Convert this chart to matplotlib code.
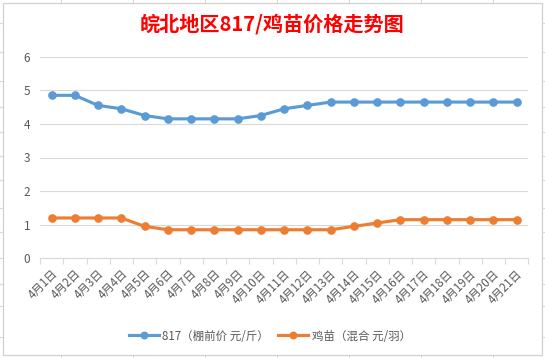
"""Recreate the 817 / chick price trend chart (Excel style)."""

import matplotlib.pyplot as plt
from matplotlib.lines import Line2D
from matplotlib.patches import Rectangle
from matplotlib.transforms import ScaledTranslation

plt.rcParams["font.family"] = ["Noto Sans CJK SC", "DejaVu Sans"]

TITLE = "皖北地区817/鸡苗价格走势图"
DAYS = [f"4月{d}日" for d in range(1, 22)]
PRICE_817 = [4.85, 4.85, 4.55, 4.45, 4.25, 4.15, 4.15, 4.15, 4.15, 4.25, 4.45,
             4.55, 4.65, 4.65, 4.65, 4.65, 4.65, 4.65, 4.65, 4.65, 4.65]
PRICE_CHICK = [1.2, 1.2, 1.2, 1.2, 0.95, 0.85, 0.85, 0.85, 0.85, 0.85, 0.85,
               0.85, 0.85, 0.95, 1.05, 1.15, 1.15, 1.15, 1.15, 1.15, 1.15]
LABEL_817 = "817（棚前价 元/斤）"
LABEL_CHICK = "鸡苗（混合 元/羽）"

BLUE = "#5B9BD5"
ORANGE = "#ED7D31"
TEXT = "#595959"
GRID = "#D9D9D9"

W, H = 545, 358
# spreadsheet cell lines behind the chart object (pixel positions)
SHEET_COLS = [61, 133, 205, 277, 349, 421, 493]
SHEET_ROWS = [23.3, 52.3, 81.3, 107.3, 132.3, 156.3, 180.3, 208.3, 232.3,
              258.3, 284.3, 306.3, 336.7]


def fx(px):
    return px / W


def fy(py):
    return 1 - py / H


fig = plt.figure(figsize=(W / 100, H / 100), dpi=100)

for x in SHEET_COLS:
    fig.add_artist(Line2D([fx(x), fx(x)], [0, 1], color=GRID, lw=0.8, zorder=0))
for y in SHEET_ROWS:
    fig.add_artist(Line2D([0, 1], [fy(y), fy(y)], color=GRID, lw=0.8, zorder=0))
fig.add_artist(Rectangle((fx(3), fy(355)), fx(539), 352 / H, transform=fig.transFigure,
                         facecolor="white", edgecolor="#D0D0D0", lw=0.9, zorder=1))

ax = fig.add_axes([fx(40), fy(258.3), fx(488.3), (258.3 - 56.7) / H], zorder=2)
ax.patch.set_alpha(0)
x = list(range(len(DAYS)))
ax.plot(x, PRICE_817, color=BLUE, lw=2.25, marker="o", ms=5.2, label=LABEL_817, zorder=3)
ax.plot(x, PRICE_CHICK, color=ORANGE, lw=2.25, marker="o", ms=5.2, label=LABEL_CHICK, zorder=3)

ax.set_xlim(-0.5, len(DAYS) - 0.5)
ax.set_ylim(0, 6)
ax.set_yticks(range(7))
ax.grid(axis="y", color=GRID, lw=0.8)
ax.set_axisbelow(True)
for side in ["left", "right", "top"]:
    ax.spines[side].set_visible(False)
ax.spines["bottom"].set_color(GRID)
ax.spines["bottom"].set_linewidth(0.8)

ax.tick_params(axis="y", length=0, pad=7, labelsize=8.5, labelcolor=TEXT)
ax.set_xticks(x)
ax.set_xticks([i - 0.5 for i in range(len(DAYS) + 1)], minor=True)
ax.tick_params(axis="x", which="minor", length=4, color=GRID, width=0.8)
ax.tick_params(axis="x", which="major", length=0, pad=9.5, labelsize=8.3, labelcolor=TEXT)
ax.set_xticklabels(DAYS, rotation=45, ha="right", va="center", rotation_mode="anchor")
shift = ScaledTranslation(0.04, 0, fig.dpi_scale_trans)
for lab in ax.get_xticklabels():
    lab.set_transform(lab.get_transform() + shift)

fig.text(fx(272), fy(24), TITLE, color="#FF0000", fontsize=14.5, fontweight="bold",
         ha="center", va="center", zorder=3)

ax.legend(loc="center", bbox_to_anchor=(fx(270), fy(336)), bbox_transform=fig.transFigure,
          ncol=2, frameon=False, fontsize=8.3, labelcolor=TEXT, handlelength=2.6,
          handletextpad=0.3, columnspacing=0.8, markerscale=0.9)

fig.savefig("out.png", dpi=100)
